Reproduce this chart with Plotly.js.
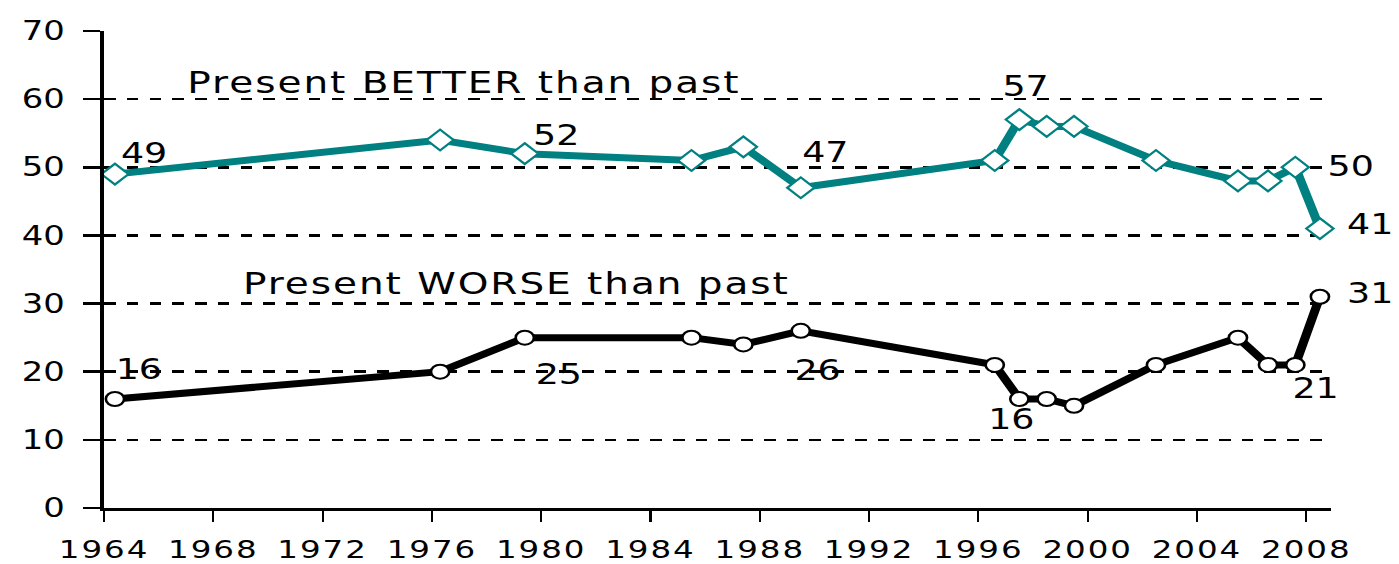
<!DOCTYPE html>
<html>
<head>
<meta charset="utf-8">
<script src="https://cdn.plot.ly/plotly-3.0.1.min.js"></script>
<style>
  html, body { margin: 0; padding: 0; background: #fff; overflow: hidden; }
  /* the reference is a horizontally stretched picture: draw narrower, then stretch */
  #chart { width: 1076px; height: 564px; transform: scaleX(1.30019); transform-origin: 0 0; }
  .xtick text { letter-spacing: 1.5px; }
  g.annotation[data-index="12"] .annotation-text,
  g.annotation[data-index="13"] .annotation-text { letter-spacing: 1.5px; }
</style>
</head>
<body>
<div id="chart"></div>
<script>
// ---- data ----
const years = [1964.4, 1976.3, 1979.4, 1985.5, 1987.4, 1989.5, 1996.6, 1997.5, 1998.5, 1999.5, 2002.5, 2005.5, 2006.6, 2007.6, 2008.5];
const better = [49, 54, 52, 51, 53, 47, 51, 57, 56, 56, 51, 48, 48, 50, 41];
const worse  = [16, 20, 25, 25, 24, 26, 21, 16, 16, 15, 21, 25, 21, 21, 31];
const tickYears = [1964, 1968, 1972, 1976, 1980, 1984, 1988, 1992, 1996, 2000, 2004, 2008];
const tickLabels = ["1964", "1968", "1972", "1976", "1980", "1984", "1988", "1992", "1996", "2000", "2004", "2008"];
const betterName = "Present BETTER than past";
const worseName = "Present WORSE than past";
const betterLabelIdx = [0, 2, 5, 7, 13, 14];
const worseLabelIdx = [0, 2, 5, 7, 13, 14];

// ---- styling ----
const SX = 1.30019;            // horizontal stretch applied by CSS
const TEAL = "#008080";
const FONT = "DejaVu Sans, Arial, sans-serif";
const betterShift = [[29, 21], [32, 18], [25, 35], [7, 33], [55, 1], [50, 4]];
const worseShift  = [[24, 29], [34, -37], [17, -40], [-8, -21], [20, -24], [50, 3]];

const traces = [
  {
    x: years, y: better, type: "scatter", mode: "lines+markers", name: betterName,
    line: { color: TEAL, width: 7 },
    marker: { symbol: "diamond", size: 16, color: "#ffffff", line: { color: TEAL, width: 2 } },
    cliponaxis: false
  },
  {
    x: years, y: worse, type: "scatter", mode: "lines+markers", name: worseName,
    line: { color: "#000000", width: 7 },
    marker: { symbol: "circle", size: 14, color: "#ffffff", line: { color: "#000000", width: 2 } },
    cliponaxis: false
  }
];

const annotations = [];
betterLabelIdx.forEach((i, k) => {
  annotations.push({
    x: years[i], y: better[i], xref: "x", yref: "y", text: String(better[i]),
    showarrow: false, xanchor: "center", yanchor: "middle",
    xshift: betterShift[k][0] / SX, yshift: betterShift[k][1],
    font: { family: FONT, size: 28, color: "#000" }
  });
});
worseLabelIdx.forEach((i, k) => {
  annotations.push({
    x: years[i], y: worse[i], xref: "x", yref: "y", text: String(worse[i]),
    showarrow: false, xanchor: "center", yanchor: "middle",
    xshift: worseShift[k][0] / SX, yshift: worseShift[k][1],
    font: { family: FONT, size: 28, color: "#000" }
  });
});
annotations.push({
  x: 1977.2, y: 62.5, xref: "x", yref: "y", text: betterName, showarrow: false,
  xanchor: "center", yanchor: "middle", font: { family: FONT, size: 30, color: "#000" }
});
annotations.push({
  x: 1979.1, y: 33.0, xref: "x", yref: "y", text: worseName, showarrow: false,
  xanchor: "center", yanchor: "middle", font: { family: FONT, size: 30, color: "#000" }
});

const layout = {
  width: 1076, height: 564,
  margin: { l: 80, r: 52, t: 31, b: 56, pad: 0 },
  paper_bgcolor: "#ffffff", plot_bgcolor: "#ffffff",
  showlegend: false,
  font: { family: FONT, color: "#000" },
  xaxis: {
    range: [1964, 2008.92], tickmode: "array", tickvals: tickYears, ticktext: tickLabels,
    showgrid: false, zeroline: false,
    showline: true, linecolor: "#000", linewidth: 3,
    ticks: "outside", ticklen: 11, tickwidth: 1.6, tickcolor: "#000",
    ticklabelstandoff: 6,
    tickfont: { family: FONT, size: 25, color: "#000" }
  },
  yaxis: {
    range: [0, 70], tickvals: [0, 10, 20, 30, 40, 50, 60, 70],
    showgrid: true, gridcolor: "#000", gridwidth: 2.5, griddash: "9px,8.5px",
    zeroline: false,
    showline: true, linecolor: "#000", linewidth: 3,
    ticks: "outside", ticklen: 13, tickwidth: 2.5, tickcolor: "#000",
    ticklabelstandoff: 9,
    tickfont: { family: FONT, size: 26, color: "#000" }
  },
  annotations: annotations
};

Plotly.newPlot("chart", traces, layout, { displayModeBar: false, staticPlot: true });
</script>
</body>
</html>
